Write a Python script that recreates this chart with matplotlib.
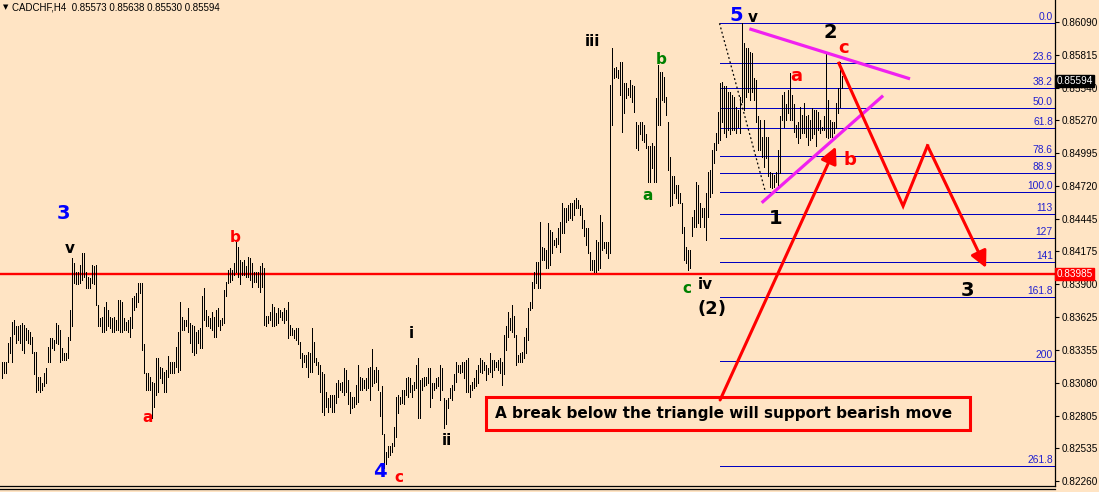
import numpy as np
import matplotlib
matplotlib.use('Agg')
import matplotlib.pyplot as plt
import matplotlib.transforms as mtransforms
from matplotlib.patches import Rectangle
from matplotlib.lines import Line2D

# ---- H4 bars (bar index 0 = leftmost bar) ----
high = [
    0.8325, 0.8325, 0.8325, 0.8341, 0.8346, 0.8359, 0.8360, 0.8355, 0.8355, 0.8356,
    0.8358, 0.8356, 0.8354, 0.8352, 0.8350, 0.8346, 0.8334, 0.8334, 0.8313, 0.8313,
    0.8308, 0.8316, 0.8320, 0.8338, 0.8345, 0.8345, 0.8344, 0.8358, 0.8356, 0.8352,
    0.8337, 0.8333, 0.8333, 0.8346, 0.8369, 0.8412, 0.8408, 0.8400, 0.8400, 0.8406,
    0.8416, 0.8416, 0.8400, 0.8396, 0.8395, 0.8406, 0.8405, 0.8406, 0.8373, 0.8362,
    0.8363, 0.8371, 0.8375, 0.8369, 0.8363, 0.8362, 0.8363, 0.8360, 0.8377, 0.8377,
    0.8375, 0.8362, 0.8359, 0.8360, 0.8363, 0.8379, 0.8380, 0.8383, 0.8391, 0.8391,
    0.8391, 0.8340, 0.8316, 0.8316, 0.8313, 0.8309, 0.8308, 0.8329, 0.8329, 0.8321,
    0.8320, 0.8317, 0.8319, 0.8330, 0.8325, 0.8325, 0.8325, 0.8338, 0.8350, 0.8375,
    0.8363, 0.8360, 0.8360, 0.8370, 0.8358, 0.8356, 0.8355, 0.8350, 0.8352, 0.8354,
    0.8380, 0.8387, 0.8369, 0.8364, 0.8362, 0.8367, 0.8363, 0.8369, 0.8370, 0.8360,
    0.8362, 0.8385, 0.8392, 0.8402, 0.8404, 0.8402, 0.8408, 0.8425, 0.8421, 0.8410,
    0.8409, 0.8410, 0.8405, 0.8413, 0.8412, 0.8408, 0.8400, 0.8400, 0.8400, 0.8405,
    0.8408, 0.8404, 0.8364, 0.8364, 0.8367, 0.8374, 0.8371, 0.8366, 0.8370, 0.8369,
    0.8367, 0.8370, 0.8369, 0.8375, 0.8356, 0.8354, 0.8352, 0.8354, 0.8354, 0.8342,
    0.8333, 0.8331, 0.8331, 0.8334, 0.8333, 0.8354, 0.8342, 0.8329, 0.8325, 0.8323,
    0.8317, 0.8315, 0.8300, 0.8295, 0.8298, 0.8298, 0.8298, 0.8308, 0.8310, 0.8308,
    0.8309, 0.8320, 0.8319, 0.8310, 0.8300, 0.8296, 0.8296, 0.8306, 0.8323, 0.8313,
    0.8312, 0.8310, 0.8312, 0.8320, 0.8321, 0.8336, 0.8319, 0.8321, 0.8319, 0.8300,
    0.8305, 0.8265, 0.8250, 0.8255, 0.8255, 0.8258, 0.8271, 0.8296, 0.8298, 0.8296,
    0.8302, 0.8302, 0.8312, 0.8313, 0.8312, 0.8306, 0.8309, 0.8323, 0.8329, 0.8310,
    0.8312, 0.8313, 0.8313, 0.8320, 0.8320, 0.8308, 0.8308, 0.8312, 0.8313, 0.8323,
    0.8320, 0.8295, 0.8294, 0.8295, 0.8304, 0.8306, 0.8315, 0.8325, 0.8323, 0.8323,
    0.8325, 0.8325, 0.8327, 0.8329, 0.8306, 0.8309, 0.8312, 0.8319, 0.8323, 0.8329,
    0.8327, 0.8325, 0.8323, 0.8320, 0.8333, 0.8327, 0.8327, 0.8325, 0.8327, 0.8329,
    0.8325, 0.8348, 0.8355, 0.8367, 0.8362, 0.8373, 0.8364, 0.8348, 0.8331, 0.8333,
    0.8334, 0.8346, 0.8354, 0.8370, 0.8375, 0.8392, 0.8400, 0.8409, 0.8409, 0.8442,
    0.8421, 0.8420, 0.8419, 0.8441, 0.8435, 0.8434, 0.8427, 0.8429, 0.8437, 0.8442,
    0.8458, 0.8454, 0.8454, 0.8456, 0.8458, 0.8458, 0.8460, 0.8462, 0.8460, 0.8456,
    0.8454, 0.8444, 0.8437, 0.8437, 0.8417, 0.8410, 0.8410, 0.8427, 0.8425, 0.8448,
    0.8442, 0.8425, 0.8425, 0.8425, 0.8556, 0.8587, 0.8570, 0.8571, 0.8569, 0.8575,
    0.8575, 0.8558, 0.8558, 0.8554, 0.8560, 0.8556, 0.8555, 0.8525, 0.8523, 0.8525,
    0.8525, 0.8523, 0.8515, 0.8505, 0.8505, 0.8508, 0.8505, 0.8545, 0.8573, 0.8567,
    0.8567, 0.8563, 0.8546, 0.8525, 0.8496, 0.8480, 0.8480, 0.8473, 0.8473, 0.8466,
    0.8458, 0.8438, 0.8421, 0.8419, 0.8419, 0.8446, 0.8452, 0.8475, 0.8473, 0.8458,
    0.8454, 0.8454, 0.8466, 0.8484, 0.8485, 0.8502, 0.8508, 0.8516, 0.8534, 0.8558,
    0.8559, 0.8555, 0.8555, 0.8550, 0.8550, 0.8548, 0.8546, 0.8538, 0.8535, 0.8546,
    0.8608, 0.8591, 0.8587, 0.8587, 0.8584, 0.8583, 0.8562, 0.8560, 0.8530, 0.8527,
    0.8513, 0.8527, 0.8513, 0.8513, 0.8484, 0.8483, 0.8481, 0.8484, 0.8502, 0.8530,
    0.8548, 0.8550, 0.8540, 0.8552, 0.8566, 0.8548, 0.8540, 0.8523, 0.8525, 0.8538,
    0.8531, 0.8541, 0.8530, 0.8531, 0.8527, 0.8537, 0.8535, 0.8535, 0.8534, 0.8527,
    0.8521, 0.8530, 0.8583, 0.8544, 0.8527, 0.8525, 0.8525, 0.8541, 0.8554, 0.8575,
    0.8564,
]
low = [
    0.8312, 0.8316, 0.8316, 0.8325, 0.8333, 0.8325, 0.8349, 0.8341, 0.8344, 0.8341,
    0.8335, 0.8333, 0.8344, 0.8341, 0.8340, 0.8333, 0.8315, 0.8300, 0.8302, 0.8300,
    0.8302, 0.8305, 0.8308, 0.8325, 0.8325, 0.8337, 0.8335, 0.8341, 0.8340, 0.8325,
    0.8327, 0.8327, 0.8327, 0.8329, 0.8344, 0.8355, 0.8391, 0.8390, 0.8390, 0.8391,
    0.8394, 0.8396, 0.8387, 0.8387, 0.8387, 0.8391, 0.8390, 0.8373, 0.8355, 0.8355,
    0.8350, 0.8350, 0.8352, 0.8355, 0.8354, 0.8350, 0.8350, 0.8352, 0.8352, 0.8350,
    0.8350, 0.8352, 0.8352, 0.8350, 0.8346, 0.8354, 0.8369, 0.8371, 0.8375, 0.8383,
    0.8335, 0.8316, 0.8302, 0.8302, 0.8302, 0.8279, 0.8288, 0.8298, 0.8300, 0.8312,
    0.8308, 0.8300, 0.8300, 0.8313, 0.8316, 0.8316, 0.8316, 0.8321, 0.8317, 0.8319,
    0.8352, 0.8352, 0.8355, 0.8350, 0.8341, 0.8334, 0.8331, 0.8333, 0.8341, 0.8337,
    0.8337, 0.8360, 0.8355, 0.8355, 0.8354, 0.8352, 0.8346, 0.8346, 0.8355, 0.8352,
    0.8356, 0.8358, 0.8380, 0.8391, 0.8392, 0.8394, 0.8398, 0.8400, 0.8396, 0.8390,
    0.8398, 0.8398, 0.8396, 0.8396, 0.8394, 0.8388, 0.8392, 0.8392, 0.8388, 0.8384,
    0.8388, 0.8356, 0.8355, 0.8358, 0.8360, 0.8355, 0.8355, 0.8356, 0.8358, 0.8363,
    0.8360, 0.8358, 0.8360, 0.8345, 0.8348, 0.8348, 0.8345, 0.8344, 0.8340, 0.8329,
    0.8321, 0.8325, 0.8321, 0.8313, 0.8317, 0.8317, 0.8325, 0.8323, 0.8315, 0.8300,
    0.8284, 0.8281, 0.8288, 0.8284, 0.8288, 0.8284, 0.8284, 0.8291, 0.8296, 0.8302,
    0.8300, 0.8298, 0.8300, 0.8290, 0.8283, 0.8287, 0.8288, 0.8290, 0.8292, 0.8302,
    0.8302, 0.8304, 0.8302, 0.8304, 0.8294, 0.8305, 0.8308, 0.8309, 0.8302, 0.8280,
    0.8265, 0.8237, 0.8240, 0.8246, 0.8248, 0.8250, 0.8255, 0.8263, 0.8283, 0.8290,
    0.8291, 0.8290, 0.8298, 0.8296, 0.8300, 0.8296, 0.8302, 0.8304, 0.8279, 0.8279,
    0.8302, 0.8305, 0.8306, 0.8308, 0.8288, 0.8295, 0.8302, 0.8304, 0.8305, 0.8294,
    0.8302, 0.8270, 0.8274, 0.8287, 0.8295, 0.8294, 0.8302, 0.8309, 0.8317, 0.8316,
    0.8317, 0.8312, 0.8300, 0.8300, 0.8296, 0.8302, 0.8304, 0.8305, 0.8308, 0.8317,
    0.8316, 0.8319, 0.8310, 0.8315, 0.8317, 0.8313, 0.8319, 0.8321, 0.8319, 0.8316,
    0.8306, 0.8315, 0.8335, 0.8346, 0.8352, 0.8350, 0.8346, 0.8323, 0.8325, 0.8325,
    0.8325, 0.8329, 0.8333, 0.8344, 0.8369, 0.8370, 0.8387, 0.8391, 0.8387, 0.8387,
    0.8410, 0.8410, 0.8404, 0.8404, 0.8406, 0.8416, 0.8423, 0.8421, 0.8424, 0.8417,
    0.8433, 0.8433, 0.8442, 0.8444, 0.8445, 0.8444, 0.8448, 0.8454, 0.8454, 0.8448,
    0.8437, 0.8430, 0.8423, 0.8416, 0.8402, 0.8402, 0.8400, 0.8400, 0.8402, 0.8404,
    0.8419, 0.8420, 0.8416, 0.8412, 0.8416, 0.8523, 0.8562, 0.8563, 0.8562, 0.8548,
    0.8517, 0.8533, 0.8545, 0.8548, 0.8546, 0.8542, 0.8534, 0.8504, 0.8502, 0.8515,
    0.8510, 0.8509, 0.8504, 0.8475, 0.8475, 0.8487, 0.8475, 0.8475, 0.8523, 0.8523,
    0.8544, 0.8542, 0.8531, 0.8485, 0.8455, 0.8456, 0.8466, 0.8462, 0.8458, 0.8458,
    0.8433, 0.8410, 0.8408, 0.8402, 0.8404, 0.8430, 0.8438, 0.8438, 0.8441, 0.8438,
    0.8446, 0.8438, 0.8427, 0.8446, 0.8463, 0.8466, 0.8491, 0.8502, 0.8508, 0.8510,
    0.8525, 0.8516, 0.8513, 0.8519, 0.8515, 0.8519, 0.8519, 0.8516, 0.8521, 0.8516,
    0.8542, 0.8535, 0.8546, 0.8550, 0.8544, 0.8550, 0.8544, 0.8525, 0.8502, 0.8502,
    0.8496, 0.8488, 0.8495, 0.8480, 0.8471, 0.8470, 0.8471, 0.8475, 0.8473, 0.8483,
    0.8527, 0.8521, 0.8527, 0.8533, 0.8527, 0.8527, 0.8517, 0.8513, 0.8508, 0.8512,
    0.8516, 0.8516, 0.8513, 0.8506, 0.8510, 0.8512, 0.8515, 0.8505, 0.8519, 0.8516,
    0.8519, 0.8519, 0.8513, 0.8512, 0.8513, 0.8513, 0.8516, 0.8520, 0.8533, 0.8538,
    0.8554,
]

symbol = 'CADCHF,H4'
last_ohlc = ['0.85573', '0.85638', '0.85530', '0.85594']
last_close = 0.85594
support_price = 0.83985

price_ticks = [0.86090, 0.85815, 0.85540, 0.85270, 0.84995, 0.84720, 0.84445,
               0.84175, 0.83900, 0.83625, 0.83355, 0.83080, 0.82805, 0.82535, 0.82260]

# fibonacci object: anchors (bar, price)
fib_bars = [359, 382]
fib_prices = [0.86076, 0.84668]
fib_levels = [0.0, 23.6, 38.2, 50.0, 61.8, 78.6, 88.9, 100.0, 113, 127, 141, 161.8, 200, 261.8]
fib_labels = ['0.0', '23.6', '38.2', '50.0', '61.8', '78.6', '88.9', '100.0',
              '113', '127', '141', '161.8', '200', '261.8']

# wave counts: text, bar, price, colour, size
waves = [
    ('3', 30.8, 0.84487, 'blue', 14), ('v', 34.3, 0.84203, 'black', 11),
    ('b', 116.8, 0.84287, 'red', 11), ('a', 72.8, 0.82795, 'red', 11),
    ('4', 189.3, 0.82337, 'blue', 14), ('c', 198.8, 0.82287, 'red', 11),
    ('i', 204.8, 0.83495, 'black', 11), ('ii', 222.8, 0.82603, 'black', 11),
    ('iii', 295.3, 0.85920, 'black', 11), ('b', 329.8, 0.85770, 'green', 11),
    ('a', 322.8, 0.84637, 'green', 11), ('c', 342.8, 0.83862, 'green', 11),
    ('iv', 351.8, 0.83903, 'black', 11), ('(2)', 355.3, 0.83695, 'black', 13),
    ('5', 367.3, 0.86137, 'blue', 14), ('v', 375.8, 0.86128, 'black', 11),
    ('2', 414.3, 0.85995, 'black', 14), ('c', 420.8, 0.85870, 'red', 13),
    ('a', 397.3, 0.85637, 'red', 13), ('b', 424.3, 0.84937, 'red', 13),
    ('1', 387.3, 0.84453, 'black', 14), ('3', 482.8, 0.83853, 'black', 14),
]

# triangle lines
tri_upper_bars = [374.7, 453.5]
tri_upper_prices = [0.86026, 0.85617]
tri_lower_bars = [380.7, 440.2]
tri_lower_prices = [0.84589, 0.85464]

# projected path
path_bars = [418.7, 450.8, 463.0, 492.3]
path_prices = [0.85743, 0.84553, 0.85056, 0.84037]
note_arrow_bars = [359.3, 417.2]
note_arrow_prices = [0.82937, 0.85048]

note = 'A break below the triangle will support bearish move'

bg = '#ffe4c4'
small = ['Liberation Sans', 'DejaVu Sans']
big = ['DejaVu Sans']

fig = plt.figure(figsize=(10.99, 4.92), dpi=100)
fig.patch.set_facecolor(bg)
ax = fig.add_axes([0, 6 / 492, 1055 / 1099, 486 / 492])
ax.set_facecolor(bg)

x = np.arange(len(high))
ax.vlines(x, low, high, colors='black', linewidth=0.55, antialiased=False, zorder=3)

ax.set_xlim(-0.75, 526.75)
ax.set_ylim(0.8627 - 486 / 12000, 0.8627)

# fibonacci
span = fib_prices[0] - fib_prices[1]
fib_tr = mtransforms.blended_transform_factory(ax.transAxes, ax.transData)
up1 = mtransforms.ScaledTranslation(0, 1 / 100, fig.dpi_scale_trans)
for lvl, lab in zip(fib_levels, fib_labels):
    p = fib_prices[0] - lvl / 100 * span
    ax.hlines(p, fib_bars[0], 526.75, colors='#0000c0', linewidth=0.55,
              antialiased=False, zorder=2)
    ax.text(0.998, p, lab, transform=fib_tr + up1, ha='right', va='bottom',
            color='#2020d0', fontsize=7.4, family=small, zorder=4)
ax.plot(fib_bars, fib_prices, color='black', linestyle=(0, (1.5, 2)), linewidth=0.9, zorder=4)

ax.axhline(support_price, color='red', linewidth=1.7, zorder=2)

# triangle
ax.plot(tri_upper_bars, tri_upper_prices, color='#f020f0', linewidth=2.3, zorder=5)
ax.plot(tri_lower_bars, tri_lower_prices, color='#f020f0', linewidth=2.3, zorder=5)

# red projected path
ax.plot(path_bars[:3], path_prices[:3], color='red', linewidth=2.2, zorder=6,
        solid_joinstyle='miter')
arrow_kw = dict(arrowstyle='-|>,head_length=0.9,head_width=0.45', color='red', lw=2.2,
                mutation_scale=11, shrinkA=0, shrinkB=0)
ax.annotate('', xy=(path_bars[3], path_prices[3]), xytext=(path_bars[2], path_prices[2]),
            arrowprops=arrow_kw, zorder=6)
ax.annotate('', xy=(note_arrow_bars[1], note_arrow_prices[1]),
            xytext=(note_arrow_bars[0], note_arrow_prices[0]), arrowprops=arrow_kw, zorder=6)

# note box
ax.add_patch(Rectangle((242.3, 0.82690), 242.0, 0.00272, fill=False, edgecolor='red',
                       linewidth=2.2, zorder=6))
ax.text(246.8, 0.82828, note, ha='left', va='center', fontsize=11, fontweight='bold',
        family=big, color='black', zorder=7)

for txt, bx, py, col, fs in waves:
    ax.text(bx, py, txt, ha='center', va='center', color=col, fontsize=fs,
            fontweight='bold', family=big, zorder=7)

# axes / ticks
for s in ['top', 'left']:
    ax.spines[s].set_visible(False)
ax.spines['right'].set_linewidth(0.9)
ax.spines['bottom'].set_linewidth(0.9)
ax.set_xticks([])
ax.yaxis.tick_right()
ax.set_yticks(price_ticks)
ax.set_yticklabels(['%.5f' % t for t in price_ticks], fontsize=7.2, family=small)
ax.tick_params(axis='y', length=3, width=0.8, pad=2)

# price boxes on the scale
ax.text(1.0015, last_close, '%.5f' % last_close, transform=fib_tr, ha='left', va='center',
        color='white', fontsize=7.2, family=small, zorder=8, clip_on=False,
        bbox=dict(boxstyle='square,pad=0.12', facecolor='black', edgecolor='black'))
ax.text(1.0015, support_price, '%.5f' % support_price, transform=fib_tr, ha='left',
        va='center', color='white', fontsize=7.2, family=small, zorder=8, clip_on=False,
        bbox=dict(boxstyle='square,pad=0.12', facecolor='red', edgecolor='red'))

# header
fig.text(3 / 1099, 1 - 7 / 492, '\u25bc', fontsize=5, va='center', ha='left',
         family=['DejaVu Sans'])
fig.text(12 / 1099, 1 - 7 / 492, symbol + '  ' + ' '.join(last_ohlc), fontsize=7,
         va='center', ha='left', family=small)

fig.add_artist(Line2D([0, 1055 / 1099], [3.5 / 492, 3.5 / 492], color='black', linewidth=0.9))

fig.savefig('out.png', dpi=100, facecolor=bg)
